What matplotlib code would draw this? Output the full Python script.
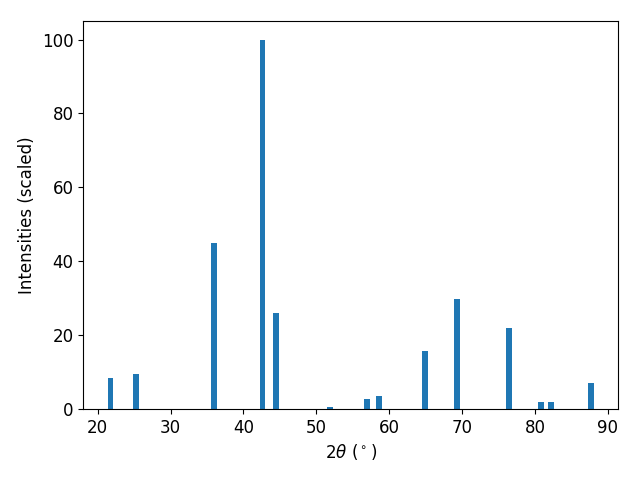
import matplotlib
matplotlib.use("Agg")
import matplotlib.pyplot as plt

two_theta = [21.74, 25.26, 36.0, 42.6, 44.5, 51.9, 56.97, 58.6, 64.9,
             69.3, 76.5, 80.8, 82.2, 87.7]
intensity = [8.4, 9.5, 44.8, 100.0, 26.0, 0.4, 2.7, 3.5, 15.7,
             29.8, 22.0, 1.9, 1.9, 7.0]

plt.rcParams["font.size"] = 12

fig, ax = plt.subplots(figsize=(6.4, 4.8), dpi=100)
ax.bar(two_theta, intensity, width=0.8)
ax.set_xlabel(r"2$\theta$ ($^\circ$)")
ax.set_ylabel("Intensities (scaled)")
fig.subplots_adjust(left=0.13, right=0.966, top=0.956, bottom=0.148)
fig.savefig("out.png")
